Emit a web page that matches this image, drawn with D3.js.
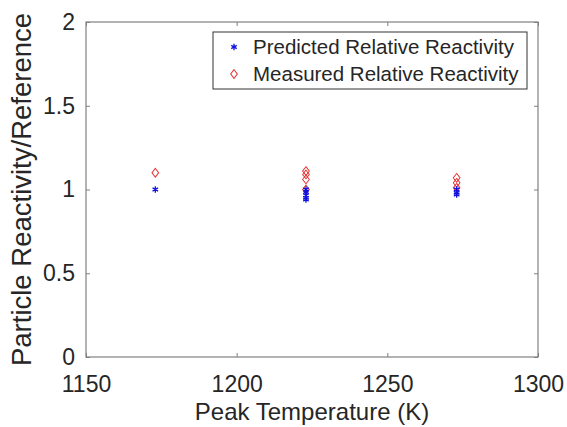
<!DOCTYPE html>
<html>
<head>
<meta charset="utf-8">
<script src="https://cdn.jsdelivr.net/npm/d3@7"></script>
<style>
  body { margin: 0; background: #fff; }
  text { font-family: "Liberation Sans", Arial, sans-serif; fill: #262626; }
</style>
</head>
<body>
<svg class="chart"></svg>
<script>
// peak temperatures (K) and relative reactivities
var predTemps = [1173, 1223, 1223, 1223, 1223, 1223, 1273, 1273, 1273];
var predValues = [1.0, 1.0, 0.985, 0.965, 0.95, 0.94, 1.0, 0.98, 0.97];
var measTemps = [1173, 1223, 1223, 1223, 1223, 1273, 1273, 1273];
var measValues = [1.10, 1.11, 1.09, 1.06, 1.0, 1.07, 1.04, 1.01];
var xTicks = [1150, 1200, 1250, 1300];
var yTicks = [0, 0.5, 1, 1.5, 2];
var legendLabels = ['Predicted Relative Reactivity', 'Measured Relative Reactivity'];

var settings = {
  width: 567,
  height: 427,
  left: 86,
  right: 538,
  top: 22,
  bottom: 357
};

function drawChart() {
  var svg = d3.select('.chart')
    .attr('width', settings.width)
    .attr('height', settings.height);

  var x = d3.scaleLinear().domain([1150, 1300]).range([settings.left, settings.right]);
  var y = d3.scaleLinear().domain([0, 2]).range([settings.bottom, settings.top]);

  // axes with inward ticks
  var xAxis = svg.append('g')
    .attr('transform', 'translate(0,' + settings.bottom + ')')
    .call(d3.axisBottom(x).tickValues(xTicks).tickSizeInner(-4).tickSizeOuter(0).tickPadding(19)
      .tickFormat(d3.format('d')));
  var yAxis = svg.append('g')
    .attr('transform', 'translate(' + settings.left + ',0)')
    .call(d3.axisLeft(y).tickValues(yTicks).tickSizeInner(-4).tickSizeOuter(0).tickPadding(11)
      .tickFormat(function(d) { return d; }));
  [xAxis, yAxis].forEach(function(a) {
    a.selectAll('line').attr('stroke', '#808080');
    a.select('.domain').remove();
    a.selectAll('text').attr('font-size', 23).attr('fill', '#262626')
      .attr('font-family', '"Liberation Sans", Arial, sans-serif');
  });

  // top/right ticks
  svg.append('g').attr('transform', 'translate(0,' + settings.top + ')')
    .call(d3.axisTop(x).tickValues(xTicks).tickSizeInner(-4).tickSizeOuter(0).tickFormat(''))
    .call(function(g) { g.select('.domain').remove(); g.selectAll('line').attr('stroke', '#808080'); });
  svg.append('g').attr('transform', 'translate(' + settings.right + ',0)')
    .call(d3.axisRight(y).tickValues(yTicks).tickSizeInner(-4).tickSizeOuter(0).tickFormat(''))
    .call(function(g) { g.select('.domain').remove(); g.selectAll('line').attr('stroke', '#808080'); });

  // box
  svg.append('rect')
    .attr('x', settings.left).attr('y', settings.top)
    .attr('width', settings.right - settings.left)
    .attr('height', settings.bottom - settings.top)
    .attr('fill', 'none').attr('stroke', '#808080').attr('stroke-width', 1.2);

  var star = d3.symbol().type(d3.symbolAsterisk).size(28);
  var diamond = d3.symbol().type(d3.symbolDiamond2).size(40);

  svg.append('g').selectAll('path')
    .data(measValues)
    .enter()
    .append('path')
    .attr('d', diamond)
    .attr('transform', function(d, i) { return 'translate(' + x(measTemps[i]) + ',' + y(d) + ') scale(0.85,1.1)'; })
    .attr('fill', 'none')
    .attr('stroke', '#e53030')
    .attr('stroke-width', 1);

  svg.append('g').selectAll('path')
    .data(predValues)
    .enter()
    .append('path')
    .attr('d', star)
    .attr('transform', function(d, i) { return 'translate(' + x(predTemps[i]) + ',' + y(d) + ')'; })
    .attr('fill', 'none')
    .attr('stroke', '#1010e0')
    .attr('stroke-width', 1.3);

  // legend
  var leg = svg.append('g');
  leg.append('rect')
    .attr('x', 213).attr('y', 32).attr('width', 314).attr('height', 57)
    .attr('fill', '#fff').attr('stroke', '#333').attr('stroke-width', 1);
  legendLabels.forEach(function(label, i) {
    var cy = 47 + i * 27;
    leg.append('path')
      .attr('d', i === 0 ? star : diamond)
      .attr('transform', 'translate(234,' + cy + ')' + (i === 0 ? '' : ' scale(0.85,1.1)'))
      .attr('fill', 'none')
      .attr('stroke', i === 0 ? '#1010e0' : '#e53030')
      .attr('stroke-width', i === 0 ? 1.3 : 1);
    leg.append('text')
      .attr('x', 253).attr('y', cy + 7)
      .attr('font-size', 20.5)
      .text(label);
  });

  // axis titles
  svg.append('text')
    .attr('x', (settings.left + settings.right) / 2)
    .attr('y', 420)
    .attr('text-anchor', 'middle')
    .attr('font-size', 24)
    .text('Peak Temperature (K)');
  svg.append('text')
    .attr('transform', 'translate(31,' + (settings.top + settings.bottom) / 2 + ') rotate(-90)')
    .attr('text-anchor', 'middle')
    .attr('font-size', 27.5)
    .text('Particle Reactivity/Reference');
}

drawChart();
</script>
</body>
</html>
